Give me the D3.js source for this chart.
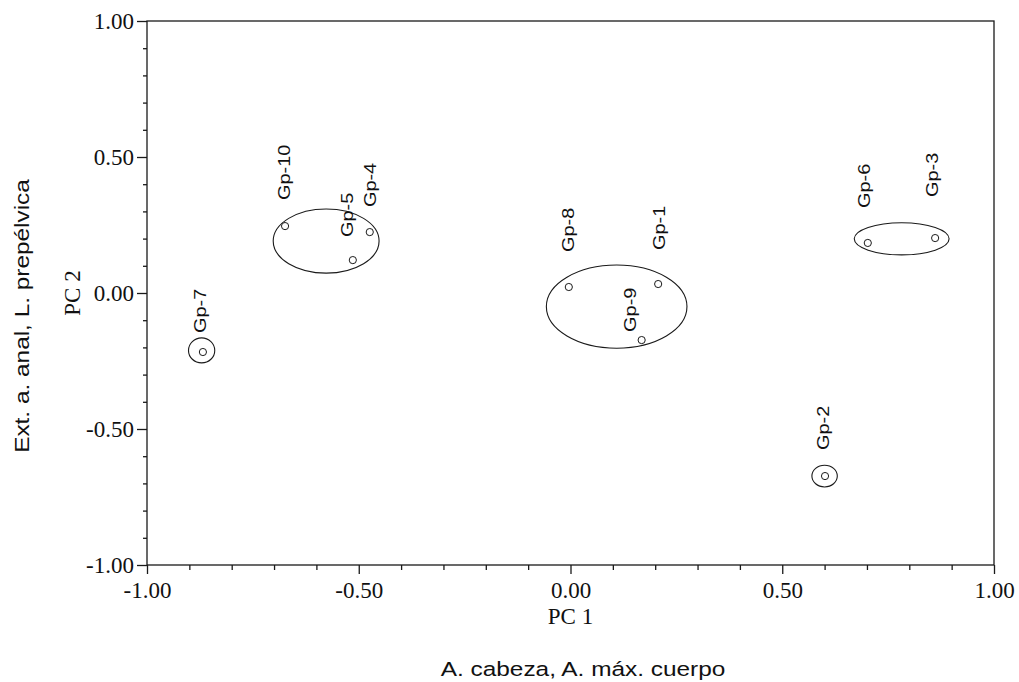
<!DOCTYPE html>
<html>
<head>
<meta charset="utf-8">
<script src="https://cdn.jsdelivr.net/npm/d3@7"></script>
<style>
  html, body { margin: 0; padding: 0; background: #fff; }
  svg { display: block; }
  .tick-label { font-family: "Liberation Serif", "Times New Roman", serif; font-size: 23px; fill: #111; }
  .pc-title { font-family: "Liberation Serif", "Times New Roman", serif; font-size: 23px; fill: #111; }
  .var-title { font-family: "Liberation Sans", Arial, sans-serif; font-size: 20.5px; fill: #111; }
  .grp-label { font-family: "Liberation Sans", Arial, sans-serif; font-size: 17px; fill: #111; }
</style>
</head>
<body>
<svg id="chart" width="1019" height="682"></svg>
<script>
// Group names and their scores on the first two principal components
const groups = ["Gp-1", "Gp-2", "Gp-3", "Gp-4", "Gp-5", "Gp-6", "Gp-7", "Gp-8", "Gp-9", "Gp-10"];
const pc1 = [0.207, 0.601, 0.861, -0.474, -0.514, 0.702, -0.868, -0.004, 0.168, -0.674];
const pc2 = [0.033, -0.673, 0.202, 0.224, 0.121, 0.184, -0.217, 0.022, -0.173, 0.246];

// Where each group name sits (start of the vertical label), in PC units
const labelPc1 = [0.209, 0.596, 0.854, -0.473, -0.528, 0.693, -0.875, -0.006, 0.142, -0.675];
const labelPc2 = [0.158, -0.577, 0.353, 0.316, 0.206, 0.3125, -0.147, 0.151, -0.143, 0.342];

// Cluster outlines: centre and half-axes in PC units
const clusterCx = [-0.577, 0.109, 0.782, -0.871, 0.600];
const clusterCy = [0.191, -0.050, 0.199, -0.211, -0.673];
const clusterRx = [0.125, 0.166, 0.112, 0.031, 0.030];
const clusterRy = [0.118, 0.153, 0.059, 0.046, 0.040];

// Axis ticks
const majorTicks = [-1.0, -0.5, 0.0, 0.5, 1.0];
const minorTicks = [-0.9, -0.8, -0.7, -0.6, -0.4, -0.3, -0.2, -0.1, 0.1, 0.2, 0.3, 0.4, 0.6, 0.7, 0.8, 0.9];

const xTitle = "PC 1";
const yTitle = "PC 2";
const xVarTitle = "A. cabeza, A. máx. cuerpo";
const yVarTitle = "Ext. a. anal, L. prepélvica";

const svg = d3.select("#chart");
const plotLeft = 147, plotRight = 994, plotTop = 21, plotBottom = 565;

const x = d3.scaleLinear().domain([-1, 1]).range([plotLeft, plotRight]);
const y = d3.scaleLinear().domain([-1, 1]).range([plotBottom, plotTop]);

// two decimals, plain hyphen for negatives
const fmt = v => d3.format(".2f")(v).replace("\u2212", "-");
const ink = "#1a1a1a";

// Frame around the plotting area
svg.append("rect")
  .attr("x", plotLeft).attr("y", plotTop)
  .attr("width", plotRight - plotLeft).attr("height", plotBottom - plotTop)
  .attr("fill", "none").attr("stroke", ink).attr("stroke-width", 1.3);

// Bottom axis
const xAxis = svg.append("g").attr("transform", `translate(0,${plotBottom})`)
  .call(d3.axisBottom(x).tickValues(majorTicks).tickFormat(fmt).tickSize(9).tickPadding(6));
const xMinor = svg.append("g").attr("transform", `translate(0,${plotBottom})`)
  .call(d3.axisBottom(x).tickValues(minorTicks).tickFormat("").tickSize(5));

// Left axis
const yAxis = svg.append("g").attr("transform", `translate(${plotLeft},0)`)
  .call(d3.axisLeft(y).tickValues(majorTicks).tickFormat(fmt).tickSize(10).tickPadding(3));
const yMinor = svg.append("g").attr("transform", `translate(${plotLeft},0)`)
  .call(d3.axisLeft(y).tickValues(minorTicks).tickFormat("").tickSize(4));

[xAxis, xMinor, yAxis, yMinor].forEach(g => {
  g.attr("font-family", null).attr("font-size", null);
  g.select(".domain").remove();
  g.selectAll(".tick line").attr("stroke", ink).attr("stroke-width", 1.3);
  g.selectAll(".tick text").attr("class", "tick-label").attr("fill", null);
});
xAxis.selectAll(".tick text").attr("dy", "0.8em");
yAxis.selectAll(".tick text").attr("dy", "0.34em");

// Axis titles
svg.append("text").attr("class", "pc-title")
  .attr("x", x(0)).attr("y", 624).attr("text-anchor", "middle").text(xTitle);
svg.append("text").attr("class", "pc-title")
  .attr("transform", `translate(80,${y(0)}) rotate(-90)`)
  .attr("text-anchor", "middle").text(yTitle);

svg.append("text").attr("class", "var-title")
  .attr("transform", `translate(583,676) scale(1.19,1)`)
  .attr("text-anchor", "middle").text(xVarTitle);
svg.append("text").attr("class", "var-title")
  .attr("transform", `translate(29,316) rotate(-90) scale(1.19,1)`)
  .attr("text-anchor", "middle").text(yVarTitle);

// Cluster ellipses
svg.append("g").selectAll("ellipse")
  .data(clusterCx.map((cx, i) => ({cx, cy: clusterCy[i], rx: clusterRx[i], ry: clusterRy[i]})))
  .join("ellipse")
  .attr("cx", d => x(d.cx)).attr("cy", d => y(d.cy))
  .attr("rx", d => x(d.rx) - x(0)).attr("ry", d => y(0) - y(d.ry))
  .attr("fill", "none").attr("stroke", ink).attr("stroke-width", 1.1);

// Group points
const pts = groups.map((g, i) => ({g, a: pc1[i], b: pc2[i], la: labelPc1[i], lb: labelPc2[i]}));
svg.append("g").selectAll("circle")
  .data(pts).join("circle")
  .attr("cx", d => x(d.a)).attr("cy", d => y(d.b)).attr("r", 3.6)
  .attr("fill", "#fff").attr("stroke", ink).attr("stroke-width", 1);

// Vertical group labels
svg.append("g").selectAll("text")
  .data(pts).join("text")
  .attr("class", "grp-label")
  .attr("transform", d => `translate(${x(d.la)},${y(d.lb)}) rotate(-90) scale(1.17,1)`)
  .attr("dy", "0.33em")
  .text(d => d.g);
</script>
</body>
</html>
